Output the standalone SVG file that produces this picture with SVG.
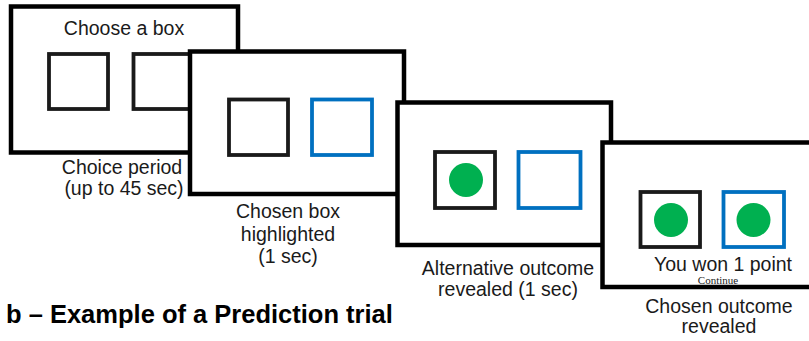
<svg xmlns="http://www.w3.org/2000/svg" width="809" height="341" viewBox="0 0 809 341">
<style>
.panel{fill:#fff;stroke:#000;stroke-width:4.5}
.box{fill:none;stroke:#1a1a1a;stroke-width:3.8}
.blue{fill:none;stroke:#0070C0;stroke-width:3.8}
.dot{fill:#00B050}
.lbl{font-family:"Liberation Sans",Arial,sans-serif;font-size:19.5px;fill:#1a1a1a;text-anchor:middle}
.cont{font-family:"Liberation Serif","Times New Roman",serif;font-size:11px;fill:#1a1a1a;text-anchor:middle}
.title{font-family:"Liberation Sans",Arial,sans-serif;font-size:25.5px;font-weight:bold;fill:#000}
</style>
<rect width="809" height="341" fill="#fff"/>
<g id="panel1">
<rect class="panel" x="11" y="6.5" width="227" height="146"/>
<text class="lbl" x="124" y="35">Choose a box</text>
<rect class="box" x="49" y="54" width="59" height="55"/>
<rect class="box" x="133.5" y="54" width="59" height="55"/>
<text class="lbl" x="122" y="174">Choice period</text>
<text class="lbl" x="124" y="195">(up to 45 sec)</text>
</g>
<g id="panel2">
<rect class="panel" x="190" y="51.5" width="214" height="142.5"/>
<rect class="box" x="229" y="99.5" width="59" height="55.5"/>
<rect class="blue" x="312" y="99.5" width="60" height="55.5"/>
<text class="lbl" x="288" y="218">Chosen box</text>
<text class="lbl" x="288" y="241">highlighted</text>
<text class="lbl" x="288" y="263">(1 sec)</text>
</g>
<g id="panel3">
<rect class="panel" x="397.5" y="102.5" width="213.5" height="142.5"/>
<rect class="box" x="435" y="152" width="60" height="56"/>
<circle class="dot" cx="466" cy="180" r="17"/>
<rect class="blue" x="518.5" y="152" width="62" height="56"/>
<text class="lbl" x="508" y="275">Alternative outcome</text>
<text class="lbl" x="508" y="296">revealed (1 sec)</text>
</g>
<g id="panel4">
<rect class="panel" x="602.5" y="142.5" width="230" height="144.5"/>
<rect class="box" x="640.5" y="192" width="59.5" height="55"/>
<circle class="dot" cx="671" cy="220" r="17"/>
<rect class="blue" x="723.5" y="192" width="60.5" height="55"/>
<circle class="dot" cx="753.5" cy="220" r="17"/>
<text class="lbl" x="723" y="271">You won 1 point</text>
<text class="cont" x="718" y="284">Continue</text>
<text class="lbl" x="719" y="313">Chosen outcome</text>
<text class="lbl" x="719" y="333">revealed</text>
</g>
<g id="connectors"></g>
<text class="title" x="6" y="323">b – Example of a Prediction trial</text>
</svg>
